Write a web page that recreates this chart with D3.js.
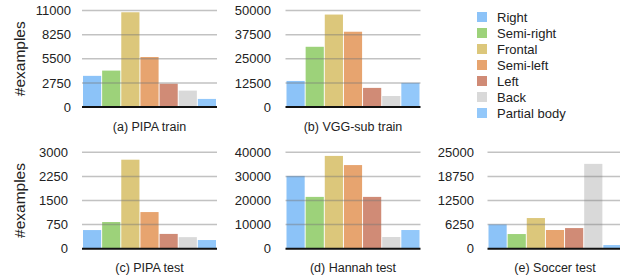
<!DOCTYPE html>
<html>
<head>
<meta charset="utf-8">
<script src="https://cdn.jsdelivr.net/npm/d3@7"></script>
<style>
  html, body { margin: 0; padding: 0; background: #fff; }
  svg { display: block; font-family: "Liberation Sans", Arial, Helvetica, sans-serif; }
</style>
</head>
<body>
<div id="chart"></div>
<script>
// 7 body-orientation classes, counts per dataset
const categories = ["Right", "Semi-right", "Frontal", "Semi-left", "Left", "Back", "Partial body"];
const colors = ["#8cc3f8", "#9dd27a", "#dcc77b", "#e7a46f", "#d08b76", "#d9d9d9", "#93c8fa"];

const pipaTrain  = [3550, 4150, 10800, 5700, 2650, 1870, 920];
const vggTrain   = [13500, 31200, 47900, 39000, 9900, 5700, 12500];
const pipaTest   = [580, 830, 2770, 1140, 460, 360, 270];
const hannahTest = [30200, 21500, 38500, 34700, 21500, 4850, 7750];
const soccerTest = [6300, 3800, 7950, 4850, 5350, 22000, 950];

const ticksA = [0, 2750, 5500, 8250, 11000];
const ticksB = [0, 12500, 25000, 37500, 50000];
const ticksC = [0, 750, 1500, 2250, 3000];
const ticksD = [0, 10000, 20000, 30000, 40000];
const ticksE = [0, 6250, 12500, 18750, 25000];

const captions = ["(a) PIPA train", "(b) VGG-sub train", "(c) PIPA test", "(d) Hannah test", "(e) Soccer test"];

// layout: x0 = left of first bar, top/base = y of max tick / zero, lab = right edge of tick labels
const panels = [
  { values: pipaTrain,  ticks: ticksA, x0: 83,    top: 10.5,  base: 107,   lab: 71,  ylabel: true },
  { values: vggTrain,   ticks: ticksB, x0: 286.5, top: 10.5,  base: 107,   lab: 271 },
  { values: pipaTest,   ticks: ticksC, x0: 83,    top: 152.3, base: 248.7, lab: 68,  ylabel: true },
  { values: hannahTest, ticks: ticksD, x0: 286.5, top: 152.3, base: 248.7, lab: 271 },
  { values: soccerTest, ticks: ticksE, x0: 488.5, top: 152.3, base: 248.7, lab: 474 },
];

const W = 620, H = 277, PW = 133;
const svg = d3.select("#chart").append("svg").attr("width", W).attr("height", H);

panels.forEach((p, k) => {
  const x = d3.scaleBand().domain(categories).range([p.x0, p.x0 + PW]).paddingInner(0.05).paddingOuter(0);
  const y = d3.scaleLinear().domain([0, d3.max(p.ticks)]).range([p.base, p.top]);
  const g = svg.append("g");

  g.selectAll("rect.bar").data(p.values).join("rect").attr("class", "bar")
    .attr("x", (d, i) => x(categories[i])).attr("width", x.bandwidth())
    .attr("y", (d) => y(d)).attr("height", (d) => p.base - y(d))
    .attr("fill", (d, i) => colors[i]);

  // grid lines sit over the bars
  g.selectAll("line.grid").data(p.ticks.filter((t) => t > 0)).join("line").attr("class", "grid")
    .attr("x1", p.x0 - 1).attr("x2", p.x0 + PW + 1)
    .attr("y1", (t) => y(t)).attr("y2", (t) => y(t))
    .attr("stroke", "rgba(120,120,120,0.45)").attr("stroke-width", 1.5);

  g.append("line").attr("x1", p.x0 - 1).attr("x2", p.x0 + PW + 1)
    .attr("y1", p.base).attr("y2", p.base).attr("stroke", "#111").attr("stroke-width", 2);

  g.selectAll("text.tick").data(p.ticks).join("text").attr("class", "tick")
    .attr("x", p.lab).attr("y", (t) => y(t)).attr("dy", "0.36em")
    .attr("text-anchor", "end").attr("font-size", 13).attr("fill", "#222")
    .text((t) => t);

  g.append("text").attr("x", p.x0 + PW / 2).attr("y", p.base + 23.5)
    .attr("text-anchor", "middle").attr("font-size", 12.5).attr("fill", "#222")
    .text(captions[k]);

  if (p.ylabel) {
    const cy = (p.top + p.base) / 2;
    g.append("text").attr("transform", `translate(25,${cy}) rotate(-90)`)
      .attr("text-anchor", "middle").attr("font-size", 15.5).attr("fill", "#222")
      .text("#examples");
  }
});

// legend
const leg = svg.append("g").attr("transform", "translate(477,12)");
const rows = leg.selectAll("g").data(categories).join("g")
  .attr("transform", (d, i) => `translate(0,${i * 16})`);
rows.append("rect").attr("width", 10).attr("height", 10).attr("fill", (d, i) => colors[i]);
rows.append("text").attr("x", 20).attr("y", 5).attr("dy", "0.36em")
  .attr("font-size", 13).attr("fill", "#222").text((d) => d);
</script>
</body>
</html>
